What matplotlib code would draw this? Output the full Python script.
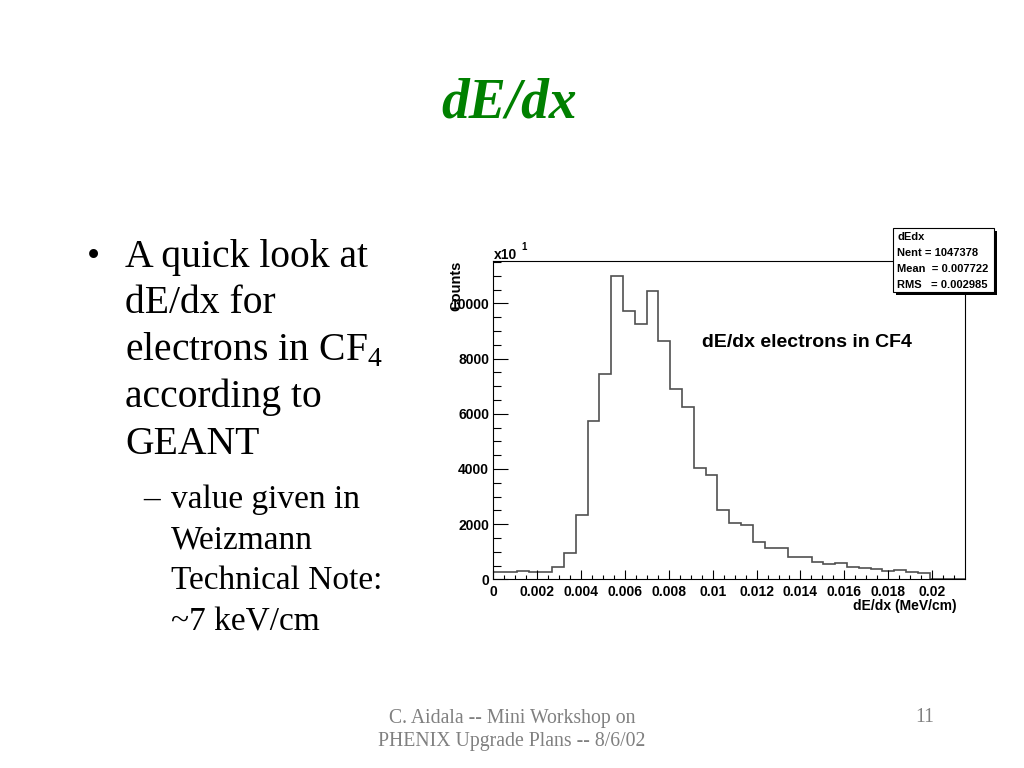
import numpy as np
import matplotlib.pyplot as plt
from matplotlib.patches import Rectangle

# dE/dx histogram (40 bins, 0 .. 0.0215 MeV/cm), in label units (x10^1)
XMAX = 0.0215
NBINS = 40
counts = [253, 253, 313, 253, 277, 458, 940, 2330, 5747, 7438,
          11000, 9732, 9250, 10446, 8634, 6895, 6254, 4021, 3779, 2511,
          2028, 1967, 1340, 1123, 1123, 797, 819, 616, 543, 580,
          435, 399, 384, 301, 326, 253, 240, 15, 0, 0]
xticks = [0, 0.002, 0.004, 0.006, 0.008, 0.01, 0.012, 0.014, 0.016, 0.018, 0.02]
xticklabels = ['0', '0.002', '0.004', '0.006', '0.008', '0.01', '0.012',
               '0.014', '0.016', '0.018', '0.02']
yticks = [0, 2000, 4000, 6000, 8000, 10000]

stats_lines = ['dEdx', 'Nent = 1047378', 'Mean  = 0.007722', 'RMS   = 0.002985']

bullet = ['A quick look at', 'dE/dx for', r'electrons in CF$_\mathrm{4}$',
          'according to', 'GEANT']
sub_bullet = ['value given in', 'Weizmann', 'Technical Note:', '~7 keV/cm']
footer = 'C. Aidala -- Mini Workshop on\nPHENIX Upgrade Plans -- 8/6/02'

plt.rcParams['mathtext.fontset'] = 'custom'
plt.rcParams['mathtext.rm'] = 'Liberation Serif'

W, H = 1024, 768
fig = plt.figure(figsize=(W / 100, H / 100), dpi=100)


def px(x, y):
    return x / W, 1 - y / H


SERIF = 'Liberation Serif'
SANS = 'Liberation Sans'

# slide text
fig.text(*px(509, 118), 'dE/dx', family=SERIF, weight='bold', style='italic',
         size=40, color='#008000', ha='center', va='baseline')

fig.text(*px(87, 266.7), '\u2022', family=SERIF, size=27, va='baseline')
for i, line in enumerate(bullet):
    fig.text(*px(125, 266.7 + i * 46.7), line, family=SERIF, size=28.5,
             va='baseline')

fig.text(*px(143, 508), '\u2013', family=SERIF, size=24, va='baseline')
for i, line in enumerate(sub_bullet):
    fig.text(*px(171, 508 + i * 40.7), line, family=SERIF, size=24,
             va='baseline')

fig.text(*px(512, 730), footer, family=SERIF, size=14.2, color='#808080',
         ha='center', va='center', linespacing=1.25)
fig.text(*px(925, 718), '11', family=SERIF, size=14.2, color='#808080',
         ha='center', va='center')

# histogram pad
left, right, top, bottom = 493.3, 965, 261, 579.3
ax = fig.add_axes([left / W, 1 - bottom / H, (right - left) / W, (bottom - top) / H])
edges = np.linspace(0, XMAX, NBINS + 1)
ax.stairs(counts, edges, color='#505050', lw=1.2)
ax.set_xlim(0, XMAX)
ax.set_ylim(0, 11533)

ax.set_xticks(xticks)
ax.set_xticklabels(xticklabels)
ax.set_xticks(np.arange(0, XMAX, 0.0005), minor=True)
ax.set_yticks(yticks)
ax.set_yticks(np.arange(0, 11533, 500), minor=True)
ax.tick_params(axis='both', which='both', direction='in', top=False, right=False,
               labelsize=10, width=0.8)
ax.tick_params(axis='x', which='major', length=6.3, pad=4)
ax.tick_params(axis='x', which='minor', length=3.1)
ax.tick_params(axis='y', which='major', length=10.8, pad=3)
ax.tick_params(axis='y', which='minor', length=6)
for lab in ax.get_xticklabels() + ax.get_yticklabels():
    lab.set_family(SANS)
    lab.set_weight('bold')
for s in ax.spines.values():
    s.set_linewidth(0.8)

fig.text(*px(494, 259), 'x10', family=SANS, weight='bold', size=10, va='baseline')
fig.text(*px(521, 250), '1', family=SANS, weight='bold', size=7, va='baseline')
fig.text(*px(456, 286), 'Counts', family=SANS, weight='bold', size=10.5,
         rotation=90, ha='center', va='center')
fig.text(*px(957, 606), 'dE/dx (MeV/cm)', family=SANS, weight='bold', size=10,
         ha='right', va='center')
fig.text(*px(702, 343), 'dE/dx electrons in CF4', family=SANS, weight='bold',
         size=14, va='center')

# stats box with shadow
bx0, by0, bx1, by1 = 893.3, 228.3, 994, 291.7
fig.patches.append(Rectangle(px(bx0 + 3, by1 + 3), (bx1 - bx0) / W, (by1 - by0) / H,
                             transform=fig.transFigure, facecolor='black',
                             edgecolor='none', zorder=5))
fig.patches.append(Rectangle(px(bx0, by1), (bx1 - bx0) / W, (by1 - by0) / H,
                             transform=fig.transFigure, facecolor='white',
                             edgecolor='black', lw=0.8, zorder=6))
for i, line in enumerate(stats_lines):
    fig.text(*px(897, 237 + i * 16), line, family=SANS, weight='bold', size=8.0,
             va='center', zorder=7)

fig.savefig('out.png', dpi=100)
